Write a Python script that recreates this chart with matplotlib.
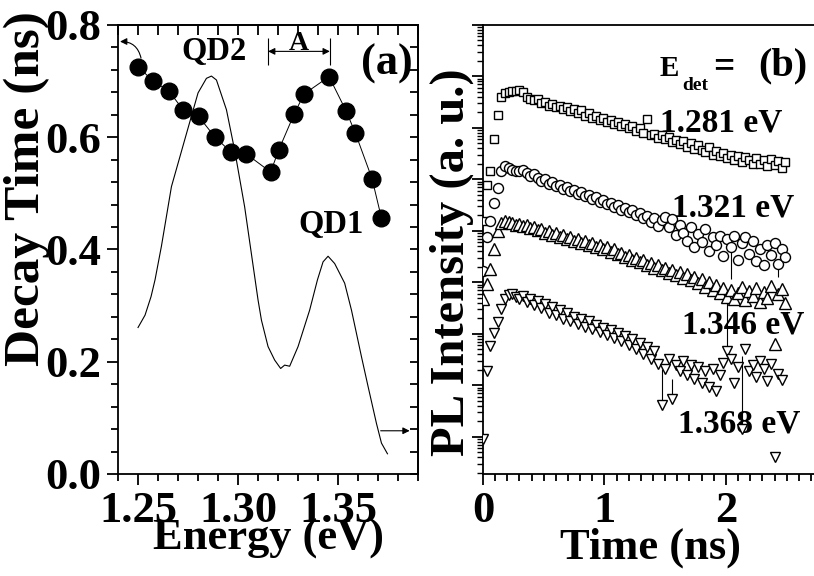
import matplotlib
matplotlib.use('Agg')
import matplotlib.pyplot as plt
import numpy as np
from matplotlib.ticker import (MultipleLocator, FormatStrFormatter,
                               NullFormatter, FixedLocator)

# ---- (a) decay time vs detection energy, with the PL spectrum behind it ----
energy = [1.2500, 1.2575, 1.2653, 1.2725, 1.2803, 1.2883, 1.2963, 1.3042, 1.3163,
          1.3203, 1.3280, 1.3330, 1.3455, 1.3540, 1.3587, 1.3670, 1.3717]
tau = [0.726, 0.700, 0.683, 0.649, 0.637, 0.601, 0.574, 0.570, 0.538,
       0.577, 0.641, 0.677, 0.708, 0.647, 0.607, 0.526, 0.456]

pl_energy = [1.2500, 1.2535, 1.2565, 1.2585, 1.2617, 1.2667, 1.2733, 1.2800, 1.2842,
             1.2867, 1.2892, 1.2942, 1.2983, 1.3033, 1.3100, 1.3117, 1.3150, 1.3183,
             1.3213, 1.3233, 1.3258, 1.3300, 1.3358, 1.3397, 1.3425, 1.3450, 1.3483,
             1.3533, 1.3567, 1.3617, 1.3650, 1.3692, 1.3717, 1.3747]
pl_intensity = [0.261, 0.283, 0.316, 0.346, 0.406, 0.512, 0.595, 0.679, 0.705,
                0.709, 0.702, 0.649, 0.577, 0.476, 0.310, 0.274, 0.227, 0.203,
                0.188, 0.194, 0.192, 0.227, 0.292, 0.346, 0.378, 0.388, 0.375,
                0.340, 0.292, 0.209, 0.156, 0.090, 0.055, 0.036]

# splitting marked "A"
a_lo, a_hi = 1.315, 1.3459

# ---- (b) PL transients, log10 of intensity (a. u.) on a 30 ps grid ----
t = np.arange(84) * 0.03

lg_1281 = [4.19, 4.90, 5.16, 5.78, 6.26, 6.61, 6.67, 6.69, 6.71, 6.72,
           6.74, 6.69, 6.61, 6.57, 6.55, 6.57, 6.49, 6.51, 6.43, 6.47,
           6.40, 6.43, 6.36, 6.40, 6.33, 6.37, 6.30, 6.34, 6.24, 6.30,
           6.20, 6.24, 6.16, 6.20, 6.12, 6.16, 6.07, 6.11, 6.03, 6.07,
           5.99, 6.03, 5.95, 5.99, 5.91, 6.18, 5.86, 5.89, 5.81, 5.87,
           5.78, 5.83, 5.72, 5.76, 5.68, 5.74, 5.64, 5.70, 5.60, 5.66,
           5.58, 5.54, 5.64, 5.48, 5.56, 5.45, 5.52, 5.41, 5.48, 5.37,
           5.46, 5.33, 5.43, 5.37, 5.30, 5.41, 5.31, 5.38, 5.26, 5.39,
           5.28, 5.35, 5.23, 5.33]

lg_1321 = [3.22, 3.88, 4.19, 4.55, 4.84, 5.16, 5.27, 5.23, 5.19, 5.16,
           5.17, 5.19, 5.12, 5.07, 5.10, 5.02, 4.97, 5.00, 4.92, 4.95,
           4.87, 4.90, 4.82, 4.85, 4.77, 4.80, 4.72, 4.75, 4.67, 4.70,
           4.62, 4.65, 4.57, 4.60, 4.52, 4.55, 4.46, 4.50, 4.41, 4.45,
           4.36, 4.40, 4.31, 4.35, 4.25, 4.30, 4.18, 4.26, 4.10, 4.21,
           4.28, 4.07, 4.24, 3.92, 4.11, 3.97, 3.80, 4.07, 3.68, 3.94,
           3.78, 4.03, 3.62, 3.88, 3.72, 3.91, 3.52, 3.84, 3.68, 3.91,
           3.43, 3.76, 3.88, 3.55, 3.80, 3.41, 3.64, 3.33, 3.72, 3.53,
           3.76, 3.35, 3.64, 3.49]

lg_1346 = [2.67, 2.97, 3.26, 3.64, 3.99, 4.15, 4.19, 4.17, 4.15, 4.11,
           4.13, 4.09, 4.12, 4.05, 4.08, 4.01, 4.04, 3.97, 4.00, 3.93,
           3.96, 3.89, 3.92, 3.84, 3.88, 3.80, 3.84, 3.76, 3.80, 3.72,
           3.76, 3.68, 3.72, 3.64, 3.68, 3.60, 3.64, 3.55, 3.58, 3.49,
           3.53, 3.44, 3.48, 3.39, 3.43, 3.33, 3.38, 3.29, 3.33, 3.24,
           3.29, 3.19, 3.25, 3.14, 3.20, 3.09, 3.16, 3.04, 3.11, 2.98,
           3.06, 2.92, 3.00, 2.86, 2.95, 2.80, 2.90, 2.72, 2.85, 2.68,
           2.80, 2.92, 2.66, 2.84, 2.74, 2.90, 2.62, 2.82, 2.70, 2.94,
           1.80, 2.78, 2.88, 2.60]

lg_1368 = [-0.04, 1.28, 1.76, 2.02, 2.23, 2.48, 2.67, 2.75, 2.77, 2.71,
           2.67, 2.73, 2.62, 2.67, 2.56, 2.64, 2.50, 2.58, 2.40, 2.52,
           2.36, 2.46, 2.29, 2.40, 2.25, 2.33, 2.19, 2.29, 2.13, 2.25,
           2.09, 2.17, 2.03, 2.11, 1.98, 2.07, 1.92, 2.02, 1.86, 1.96,
           1.78, 1.90, 1.71, 1.82, 1.61, 1.74, 1.51, 1.67, 1.41, 0.62,
           1.32, 1.51, 0.74, 1.40, 1.28, 1.47, 1.20, 1.40, 1.12, 1.36,
           1.05, 1.28, 0.97, 1.32, 0.89, 1.20, 1.43, 1.67, 1.51, 1.05,
           1.36, 0.16, 1.71, 1.28, 1.40, 1.16, 1.47, 1.32, 1.09, 1.41,
           -0.39, 1.22, 1.10]

# error bars: time of the point and log10 of the far end of the bar
bar_1321_t = [2.04, 2.43]
bar_1321_end = [3.06, 3.10]
bar_1368_t = [1.47, 1.56, 2.01, 2.13]
bar_1368_end = [1.32, 1.12, 2.62, 1.57]

plt.rcParams['font.family'] = ['Liberation Serif', 'DejaVu Serif']
plt.rcParams['font.weight'] = 'bold'
plt.rcParams['axes.linewidth'] = 1.3

fig = plt.figure(figsize=(8.14, 5.76), dpi=100)
ax1 = fig.add_axes([0.145, 0.1771, 0.3686, 0.7795])
ax2 = fig.add_axes([0.5934, 0.1771, 0.4103, 0.7795])

TICK = dict(labelsize=32, width=1.3)

# ---------------- panel (a) ----------------
ax1.plot(pl_energy, pl_intensity, '-', color='k', lw=0.8)
ax1.plot(energy, tau, '-', color='k', lw=0.7, marker='o', ms=12,
         mfc='k', mec='k', zorder=3)

ax1.set_xlim(1.24, 1.39)
ax1.set_ylim(0.0, 0.8)
ax1.xaxis.set_major_locator(FixedLocator([1.25, 1.30, 1.35]))
ax1.xaxis.set_minor_locator(MultipleLocator(0.01))
ax1.xaxis.set_major_formatter(FormatStrFormatter('%.2f'))
ax1.yaxis.set_major_locator(MultipleLocator(0.2))
ax1.yaxis.set_minor_locator(MultipleLocator(0.04))
ax1.yaxis.set_major_formatter(FormatStrFormatter('%.1f'))
ax1.tick_params(which='both', direction='out', **TICK)
ax1.tick_params(which='major', length=8, pad=4)
ax1.tick_params(which='minor', length=5)
for lab in ax1.get_xticklabels() + ax1.get_yticklabels():
    lab.set_fontweight('bold')

# mirrored inward ticks on top and right
top = ax1.secondary_xaxis('top')
top.xaxis.set_major_locator(MultipleLocator(0.05))
top.xaxis.set_minor_locator(MultipleLocator(0.01))
top.tick_params(which='both', direction='in', length=7, width=1.3, labeltop=False)
right = ax1.secondary_yaxis('right')
right.yaxis.set_major_locator(MultipleLocator(0.2))
right.yaxis.set_minor_locator(MultipleLocator(0.04))
right.tick_params(which='both', direction='in', length=6, width=1.3, labelright=False)

ax1.text(-0.303, 0.635, 'Decay Time (ns)', transform=ax1.transAxes, rotation=90,
         ha='center', va='center', fontsize=37, fontweight='bold')
ax1.text(0.5, -0.145, 'Energy (eV)', transform=ax1.transAxes,
         ha='center', va='center', fontsize=32, fontweight='bold')

ax1.text(1.2715, 0.738, 'QD2', fontsize=23.5, fontweight='bold')
ax1.text(1.330, 0.429, 'QD1', fontsize=23.5, fontweight='bold')
ax1.text(1.3745, 0.711, '(a)', ha='center', fontsize=32, fontweight='bold')

# splitting bracket
ax1.vlines([a_lo, a_hi], 0.729, 0.777, color='k', lw=0.8)
ax1.annotate('', xy=(a_hi, 0.753), xytext=(a_lo, 0.753),
             arrowprops=dict(arrowstyle='<|-|>', color='k', lw=0.8,
                             mutation_scale=10, shrinkA=0, shrinkB=0))
ax1.text((a_lo + a_hi) / 2, 0.755, 'A', ha='center', fontsize=20, fontweight='bold')

# arrows pointing each curve to its axis
ax1.annotate('', xy=(1.2410, 0.7705), xytext=(1.2515, 0.741),
             arrowprops=dict(arrowstyle='-|>', color='k', lw=0.8, mutation_scale=10,
                             connectionstyle='arc3,rad=0.4', shrinkA=0, shrinkB=0))
ax1.annotate('', xy=(1.3858, 0.077), xytext=(1.3713, 0.077),
             arrowprops=dict(arrowstyle='-|>', color='k', lw=0.8, mutation_scale=10,
                             shrinkA=0, shrinkB=0))

# ---------------- panel (b) ----------------
series = [
    (lg_1281, 's', 6.0),
    (lg_1321, 'o', 7.2),
    (lg_1346, '^', 8.0),
    (lg_1368, 'v', 7.5),
]
for lg, mk, ms in series:
    tt = t[:len(lg)]
    ax2.plot(tt, 10 ** np.array(lg), ls='none', marker=mk, ms=ms, mfc='white',
             mec='k', mew=1.0, zorder=3)


def draw_bars(lg, bar_t, bar_end):
    for bt, be in zip(bar_t, bar_end):
        i = int(np.abs(t - bt).argmin())
        ax2.vlines(t[i], 10 ** lg[i], 10 ** be, color='k', lw=0.8, zorder=2)


draw_bars(lg_1321, bar_1321_t, bar_1321_end)
draw_bars(lg_1368, bar_1368_t, bar_1368_end)

decades = range(-1, 9)
ax2.set_yscale('log')
ax2.set_xlim(0, 2.75)
ax2.set_ylim(10 ** -0.72, 10 ** 8.0)
ax2.xaxis.set_major_locator(MultipleLocator(1))
ax2.xaxis.set_minor_locator(MultipleLocator(0.1))
ax2.yaxis.set_major_locator(FixedLocator([10.0 ** d for d in decades]))
ax2.yaxis.set_minor_locator(FixedLocator([m * 10.0 ** d for d in decades
                                          for m in range(2, 10)]))
ax2.yaxis.set_major_formatter(NullFormatter())
ax2.yaxis.set_minor_formatter(NullFormatter())
ax2.tick_params(which='both', direction='out', top=False, right=False, **TICK)
ax2.tick_params(which='major', length=8, pad=4)
ax2.tick_params(axis='x', which='minor', length=5)
ax2.tick_params(axis='y', which='minor', length=4, width=1.0)
for lab in ax2.get_xticklabels():
    lab.set_fontweight('bold')
ax2.spines['right'].set_visible(False)

ax2.text(-0.093, 0.471, 'PL Intensity (a. u.)', transform=ax2.transAxes, rotation=90,
         ha='center', va='center', fontsize=35, fontweight='bold')
ax2.text(0.5, -0.164, 'Time (ns)', transform=ax2.transAxes,
         ha='center', va='center', fontsize=32, fontweight='bold')

ax2.text(1.457, 10 ** 7.0, 'E', fontsize=21, fontweight='bold', zorder=1)
ax2.text(1.640, 10 ** 6.74, 'det', fontsize=14, fontweight='bold', zorder=1)
ax2.text(1.893, 10 ** 7.0, '=', fontsize=27, fontweight='bold', zorder=1)
ax2.text(2.469, 10 ** 7.016, '(b)', ha='center', fontsize=29, fontweight='bold', zorder=1)

ax2.text(1.457, 10 ** 5.94, '1.281 eV', fontsize=24, fontweight='bold', zorder=1)
ax2.text(1.556, 10 ** 4.29, '1.321 eV', fontsize=24, fontweight='bold', zorder=1)
ax2.text(1.638, 10 ** 2.00, '1.346 eV', fontsize=24, fontweight='bold', zorder=1)
ax2.text(1.605, 10 ** 0.08, '1.368 eV', fontsize=24, fontweight='bold', zorder=1)

fig.savefig('out.png', dpi=100)
